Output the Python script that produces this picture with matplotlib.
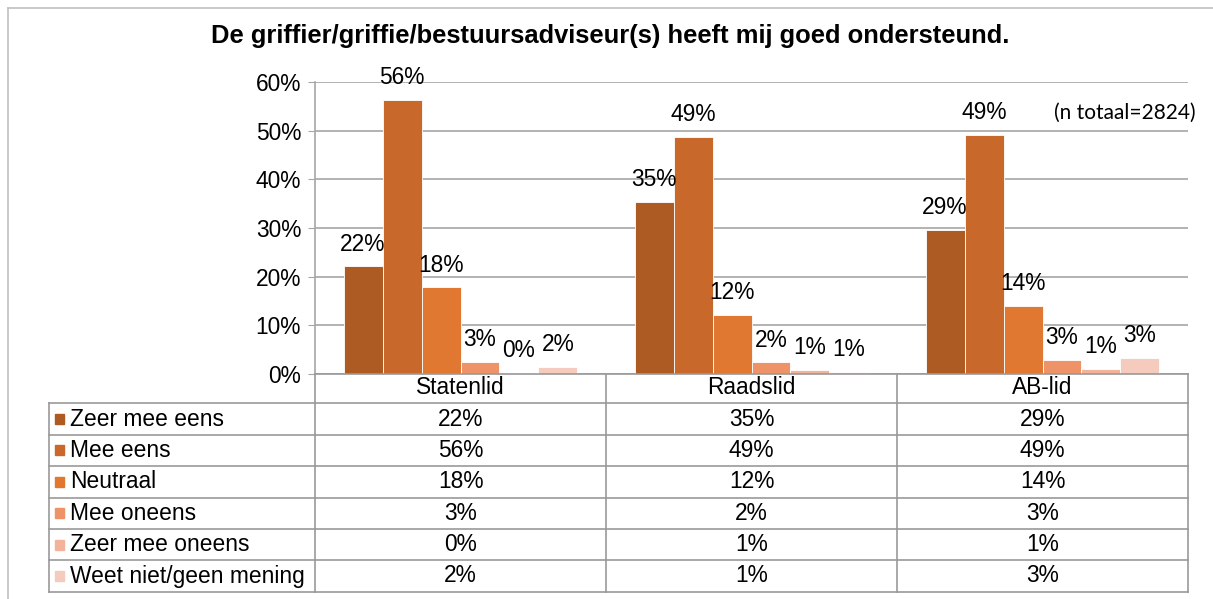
import numpy as np
import matplotlib.pyplot as plt
from matplotlib.lines import Line2D
from matplotlib.patches import Rectangle

plt.rcParams['font.family'] = ['Liberation Sans', 'DejaVu Sans']

# Data
categories = ['Statenlid', 'Raadslid', 'AB-lid']
answers = ['Zeer mee eens', 'Mee eens', 'Neutraal', 'Mee oneens',
           'Zeer mee oneens', 'Weet niet/geen mening']
zeer_mee_eens = [22, 35, 29]
mee_eens = [56, 49, 49]
neutraal = [18, 12, 14]
mee_oneens = [3, 2, 3]
zeer_mee_oneens = [0, 1, 1]
weet_niet = [2, 1, 3]
# exact-ish heights
heights = [
    [22.1, 35.3, 29.6],
    [56.3, 48.8, 49.2],
    [17.8, 12.1, 14.0],
    [2.5, 2.4, 2.9],
    [0.2, 0.9, 1.0],
    [1.4, 0.5, 3.3],
]
labels = [zeer_mee_eens, mee_eens, neutraal, mee_oneens, zeer_mee_oneens, weet_niet]
colors = ['#AE5A23', '#C8692B', '#E07832', '#EE9368', '#F3B39B', '#F5CBBE']
title = 'De griffier/griffie/bestuursadviseur(s) heeft mij goed ondersteund.'
note = '(n totaal=2824)'

W, H = 1213, 599
FS = 16.4
fig = plt.figure(figsize=(W / 100, H / 100), dpi=100)


def fx(px):
    return px / W


def fy(py):
    return 1 - py / H


def fline(x0, y0, x1, y1, color='#999999', lw=1.2):
    fig.add_artist(Line2D([fx(x0), fx(x1)], [fy(y0), fy(y1)],
                          transform=fig.transFigure, color=color, lw=lw))


left, right, top, bottom = 315, 1188, 82, 374
ax = fig.add_axes([fx(left), fy(bottom), fx(right) - fx(left), fy(top) - fy(bottom)])

n = len(answers)
bw = 0.134
x = np.arange(len(categories))
for i in range(n):
    pos = x + (i - (n - 1) / 2) * bw
    ax.bar(pos, np.array(heights[i]) / 100, bw, color=colors[i],
           edgecolor='white', linewidth=0.6, zorder=3)
    for xp, h, lab in zip(pos, heights[i], labels[i]):
        ax.annotate(f'{lab}%', (xp, h / 100), xytext=(0, 16),
                    textcoords='offset points', ha='center', va='center',
                    fontsize=FS, zorder=4)

ax.set_xlim(-0.5, 2.5)
ax.set_ylim(0, 0.6)
ax.set_yticks(np.arange(0, 0.61, 0.1))
ax.set_yticklabels([f'{int(round(v * 100))}%' for v in np.arange(0, 0.61, 0.1)])
ax.tick_params(axis='y', labelsize=FS, length=5, color='#A6A6A6', pad=5)
ax.set_xticks([])
ax.grid(axis='y', color='#A6A6A6', lw=1.2, zorder=0)
for s in ['top', 'right', 'bottom']:
    ax.spines[s].set_visible(False)
ax.spines['left'].set_color('#A6A6A6')
ax.spines['left'].set_linewidth(1.2)

fig.text(fx(610), fy(36), title, ha='center', va='center',
         fontsize=18.4, fontweight='bold')
fig.text(fx(1196), fy(113), note, ha='right', va='center',
         fontsize=15, family=['Lato', 'DejaVu Sans'])

# outer border
fline(8, 8, W, 8, color='#C0C0C0')
fline(8, 8, 8, H, color='#C0C0C0')

# table below the axis
col_edges = [left + (right - left) * k / 3 for k in range(4)]
hdr_top = bottom
row_top = 403.3
row_h = 31.4
tbl_left = 48.6
tbl_bottom = row_top + row_h * n

fline(left, hdr_top, right, hdr_top, color='#999999')
for xe in col_edges:
    fline(xe, hdr_top, xe, tbl_bottom)
fline(tbl_left, row_top, tbl_left, tbl_bottom)
for r in range(n + 1):
    fline(tbl_left, row_top + r * row_h, right, row_top + r * row_h)

for k, cat in enumerate(categories):
    cx = (col_edges[k] + col_edges[k + 1]) / 2
    fig.text(fx(cx), fy(388), cat, ha='center', va='center', fontsize=FS)

for r, name in enumerate(answers):
    cy = row_top + (r + 0.5) * row_h
    fig.add_artist(Rectangle((fx(55), fy(cy + 5)), fx(9), 10 / H,
                             transform=fig.transFigure, color=colors[r]))
    fig.text(fx(70), fy(cy), name, ha='left', va='center', fontsize=FS)
    for k in range(len(categories)):
        cx = (col_edges[k] + col_edges[k + 1]) / 2
        fig.text(fx(cx), fy(cy), f'{labels[r][k]}%', ha='center',
                 va='center', fontsize=FS)

fig.savefig('out.png', dpi=100)
